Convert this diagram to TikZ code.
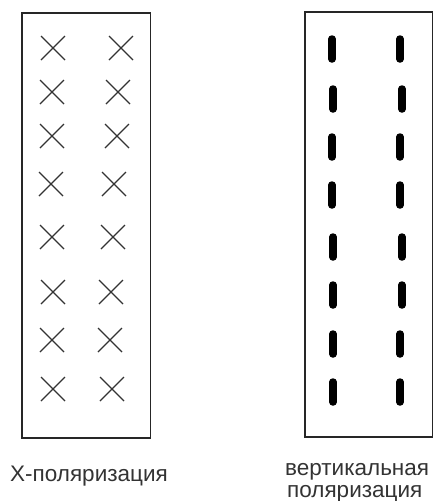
\documentclass[tikz,border=0pt]{standalone}
\usepackage{fontspec}
\setmainfont{Liberation Sans}
\begin{document}
\begin{tikzpicture}[x=1pt,y=-1pt,
  frame/.style={draw=black!85,line width=1.4pt},
  cross/.style={draw=black!80,line width=1.1pt},
  bar/.style={draw=black,line width=7.5pt,line cap=round},
  lbl/.style={inner sep=0pt,text=black!80,font=\fontsize{22.5}{20}\selectfont}]
\useasboundingbox (0,0) rectangle (434,501);
% left frame
\draw[frame] (22,13) rectangle (150.5,438);
% right frame
\draw[frame] (305,12) rectangle (432.5,437);
% crosses
\foreach \x/\y in {53/48,121/48,52/92,118/92,52/136,117/136,51/184,114/184,
                   52/237,113/237,53/292,111/292,52/340,110/340,53/389,112/389}{
  \draw[cross] (\x-12,\y-12) -- (\x+12,\y+12) (\x-12,\y+12) -- (\x+12,\y-12);
}
% vertical bars
\foreach \x/\y in {332/49,400/49,333/99,402/99,332/147,400/147,332/195,400/195,
                   333/247,402/247,333/295,402/295,333/344,400/344,333/392,400/392}{
  \draw[bar] (\x,\y-10) -- (\x,\y+10);
}
\node[lbl,anchor=base west] (xl) at (10,481) {X-поляризация};
\node[lbl,anchor=base west] (vl1) at (285,475.5) {вертикальная};
\node[lbl,anchor=base west] (vl2) at (287,497) {поляризация};
\end{tikzpicture}
\end{document}
